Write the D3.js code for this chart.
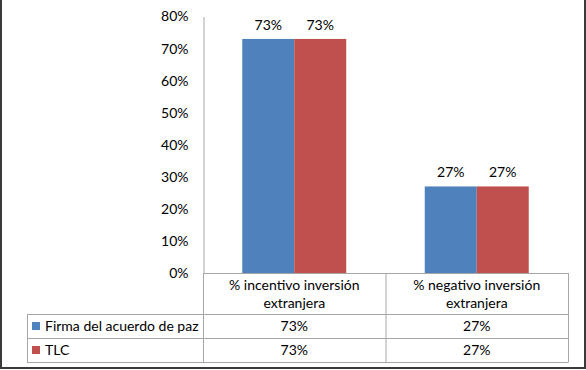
<!DOCTYPE html>
<html>
<head>
<meta charset="utf-8">
<script src="https://cdn.jsdelivr.net/npm/d3@7"></script>
<style>
  body { margin: 0; background: #fff; }
  svg { display: block; font-family: Lato, "Open Sans", sans-serif; }
  text { fill: #000; }
</style>
</head>
<body>
<div id="chart"></div>
<script>
// Data
var categories = ["% incentivo inversión extranjera", "% negativo inversión extranjera"];
var categoryLines = [["% incentivo inversión", "extranjera"], ["% negativo inversión", "extranjera"]];
var seriesNames = ["Firma del acuerdo de paz", "TLC"];
var firmaValues = [0.73, 0.27];
var tlcValues = [0.73, 0.27];
var yTicks = [0, 0.1, 0.2, 0.3, 0.4, 0.5, 0.6, 0.7, 0.8];

var colors = ["#4F81BD", "#C0504D"];
var seriesValues = [firmaValues, tlcValues];

var svgWidth = 586, svgHeight = 370;
var fontSize = "14px";

var svg = d3.select("#chart")
    .append("svg")
    .attr("width", svgWidth)
    .attr("height", svgHeight);

// plot area
var plotLeft = 203, plotRight = 568, plotTop = 16.5, plotBottom = 273;
var tableLeft = 27;
var rowLines = [273, 314, 338, 362];

var xScale = d3.scaleBand()
    .domain(categories)
    .range([plotLeft, plotRight])
    .padding(0);

var xInner = d3.scaleBand()
    .domain(seriesNames)
    .range([0, xScale.bandwidth()])
    .paddingInner(0)
    .paddingOuter(0.755);

var yScale = d3.scaleLinear()
    .domain([0, 0.8])
    .range([plotBottom, plotTop]);

// outer frame
svg.append("path")
    .attr("d", `M1,0 V368 H585 V0`)
    .attr("fill", "none")
    .attr("stroke", "#3a3a3a")
    .attr("stroke-width", 2);

// y axis
var leftAxis = d3.axisLeft(yScale)
    .tickValues(yTicks)
    .tickSize(0)
    .tickPadding(15)
    .tickFormat(d3.format(".0%"));

var yAxisG = svg.append("g")
    .attr("transform", `translate(${plotLeft + 0.5}, 0)`)
    .call(leftAxis);
yAxisG.select(".domain").attr("stroke", "#a6a6a6");
yAxisG.selectAll("text")
    .style("font-size", fontSize)
    .style("font-family", "Lato, 'Open Sans', sans-serif")
    .attr("fill", "#000");

// bars
seriesNames.forEach(function(name, si) {
    svg.append("g").selectAll("rect")
        .data(categories)
        .enter()
        .append("rect")
        .attr("x", d => xScale(d) + xInner(name))
        .attr("y", (d, i) => yScale(seriesValues[si][i]))
        .attr("width", xInner.bandwidth())
        .attr("height", (d, i) => yScale(0) - yScale(seriesValues[si][i]))
        .attr("fill", colors[si]);

    // data labels
    svg.append("g").selectAll("text")
        .data(categories)
        .enter()
        .append("text")
        .attr("x", d => xScale(d) + xInner(name) + xInner.bandwidth() / 2)
        .attr("y", (d, i) => yScale(seriesValues[si][i]) - 9)
        .attr("text-anchor", "middle")
        .style("font-size", fontSize)
        .text((d, i) => d3.format(".0%")(seriesValues[si][i]));
});

// data table grid
var grid = svg.append("g")
    .attr("stroke", "#a6a6a6")
    .attr("stroke-width", 1)
    .attr("fill", "none");

rowLines.forEach(function(y, i) {
    var x0 = i === 0 ? plotLeft : tableLeft;
    grid.append("line")
        .attr("x1", x0).attr("x2", plotRight)
        .attr("y1", y + 0.5).attr("y2", y + 0.5);
});
grid.append("line")
    .attr("x1", tableLeft + 0.5).attr("x2", tableLeft + 0.5)
    .attr("y1", rowLines[1]).attr("y2", rowLines[3] + 0.5);
[plotLeft].concat(categories.map(c => xScale(c) + xScale.bandwidth())).forEach(function(x) {
    grid.append("line")
        .attr("x1", x + 0.5).attr("x2", x + 0.5)
        .attr("y1", rowLines[0]).attr("y2", rowLines[3] + 0.5);
});

// category header text
categories.forEach(function(c, i) {
    var t = svg.append("text")
        .attr("text-anchor", "middle")
        .style("font-size", fontSize);
    categoryLines[i].forEach(function(line, li) {
        t.append("tspan")
            .attr("x", xScale(c) + xScale.bandwidth() / 2)
            .attr("y", 290 + li * 18)
            .text(line);
    });
});

// legend rows with values
seriesNames.forEach(function(name, si) {
    var yTop = rowLines[si + 1], yBot = rowLines[si + 2];
    var yMid = (yTop + yBot) / 2;
    svg.append("rect")
        .attr("x", 32).attr("y", yMid - 4)
        .attr("width", 8).attr("height", 8)
        .attr("fill", colors[si]);
    svg.append("text")
        .attr("x", 45).attr("y", yMid + 5)
        .style("font-size", fontSize)
        .text(name);
    svg.append("g").selectAll("text")
        .data(categories)
        .enter()
        .append("text")
        .attr("x", d => xScale(d) + xScale.bandwidth() / 2)
        .attr("y", yMid + 5)
        .attr("text-anchor", "middle")
        .style("font-size", fontSize)
        .text((d, i) => d3.format(".0%")(seriesValues[si][i]));
});
</script>
</body>
</html>
